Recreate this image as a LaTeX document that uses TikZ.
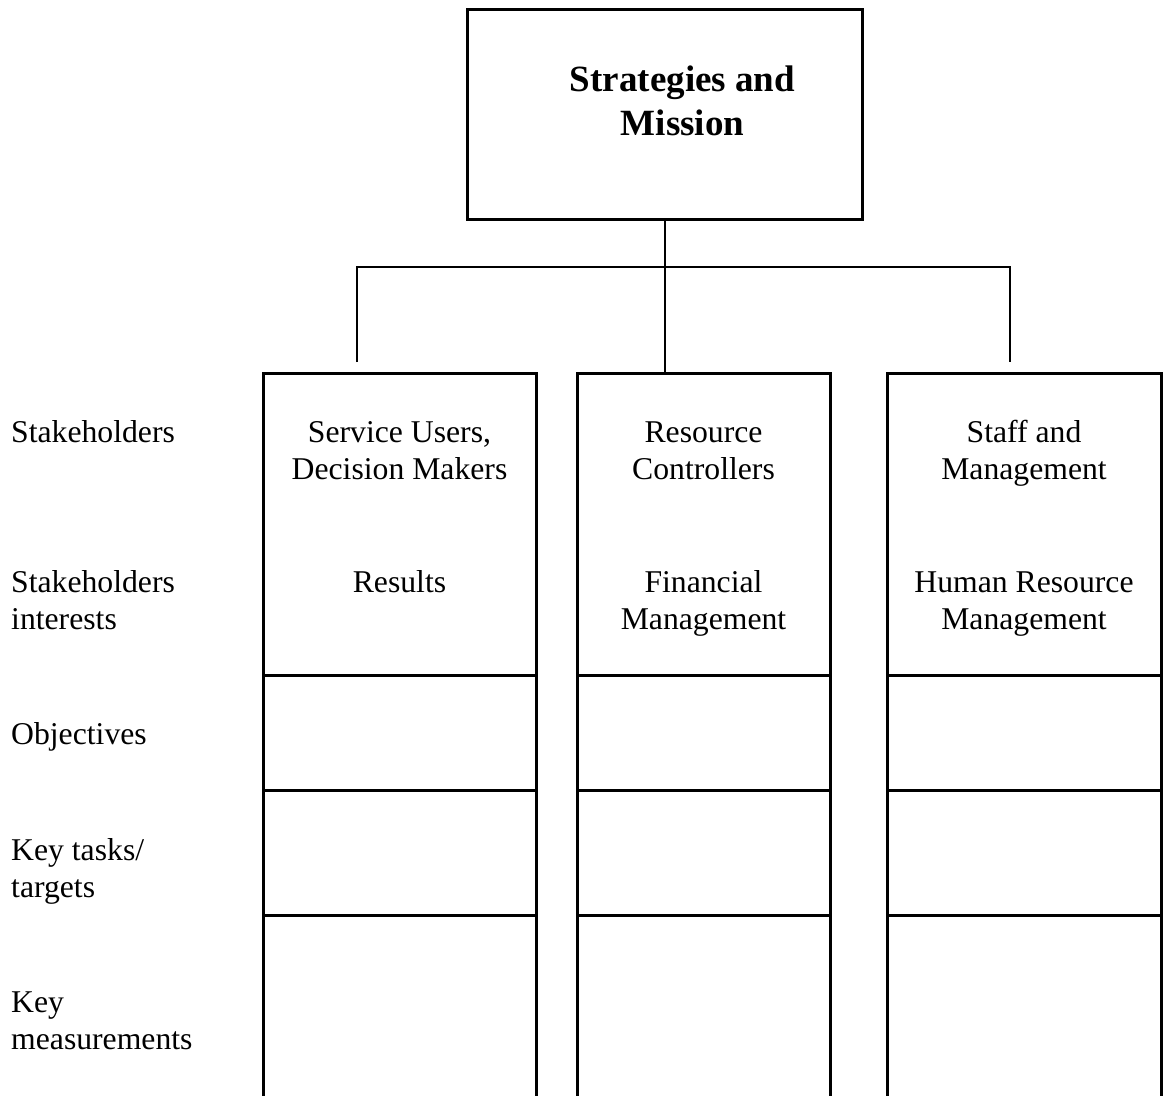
\documentclass[tikz,border=0pt]{standalone}
\usepackage{fontspec}
\setmainfont{Liberation Serif}
\begin{document}
\begin{tikzpicture}[x=1pt,y=-1pt,
  boxline/.style={line width=3pt,line cap=rect},
  conn/.style={line width=2pt},
  lbl/.style={font=\fontsize{31.7}{37}\selectfont,inner sep=0pt,anchor=base west},
  ctext/.style={font=\fontsize{31.7}{37}\selectfont,inner sep=0pt,anchor=base},
  titletext/.style={font=\fontsize{37}{44}\selectfont\bfseries,inner sep=0pt,anchor=base}]
\useasboundingbox (0,0) rectangle (1163,1096);
% top box
\node[draw,line width=3pt,minimum width=395pt,minimum height=210pt,inner sep=0pt] (top) at (664.5,114) {};
\node[titletext] (title1) at (682.5,91) {Strategies and};
\node[titletext] (title2) at (682.5,135) {Mission};
% connectors
\coordinate (hub) at (664.5,267);
\coordinate (hl) at (357,267);
\coordinate (hr) at (1010,267);
\coordinate (dl) at (357,362);
\coordinate (dm) at (664.5,371.5);
\coordinate (dr) at (1010,362);
\draw[conn] (top.south) -- (hub) -- (dm);
\draw[conn] (dl) -- (hl) -- (hr) -- (dr);
% columns (open at the bottom)
\foreach \l/\r in {263/536,577/830,887/1161}{
  \draw[boxline] (\l,1100) -- (\l,373) -- (\r,373) -- (\r,1100);
  \draw[boxline] (\l,675) -- (\r,675);
  \draw[boxline] (\l,790) -- (\r,790);
  \draw[boxline] (\l,915) -- (\r,915);
}
% row labels
\node[lbl] (l1) at (11,442) {Stakeholders};
\node[lbl] (l2a) at (11,592) {Stakeholders};
\node[lbl] (l2b) at (11,629) {interests};
\node[lbl] (l3) at (11,744) {Objectives};
\node[lbl] (l4a) at (11,860) {Key tasks/};
\node[lbl] (l4b) at (11,897) {targets};
\node[lbl] (l5a) at (11,1012) {Key};
\node[lbl] (l5b) at (11,1049) {measurements};
% column texts
\node[ctext] (a1a) at (399.5,442) {Service Users,};
\node[ctext] (a1b) at (399.5,479) {Decision Makers};
\node[ctext] (a2) at (399.5,592) {Results};
\node[ctext] (b1a) at (703.5,442) {Resource};
\node[ctext] (b1b) at (703.5,479) {Controllers};
\node[ctext] (b2a) at (703.5,592) {Financial};
\node[ctext] (b2b) at (703.5,629) {Management};
\node[ctext] (c1a) at (1024,442) {Staff and};
\node[ctext] (c1b) at (1024,479) {Management};
\node[ctext] (c2a) at (1024,592) {Human Resource};
\node[ctext] (c2b) at (1024,629) {Management};
\end{tikzpicture}
\end{document}
